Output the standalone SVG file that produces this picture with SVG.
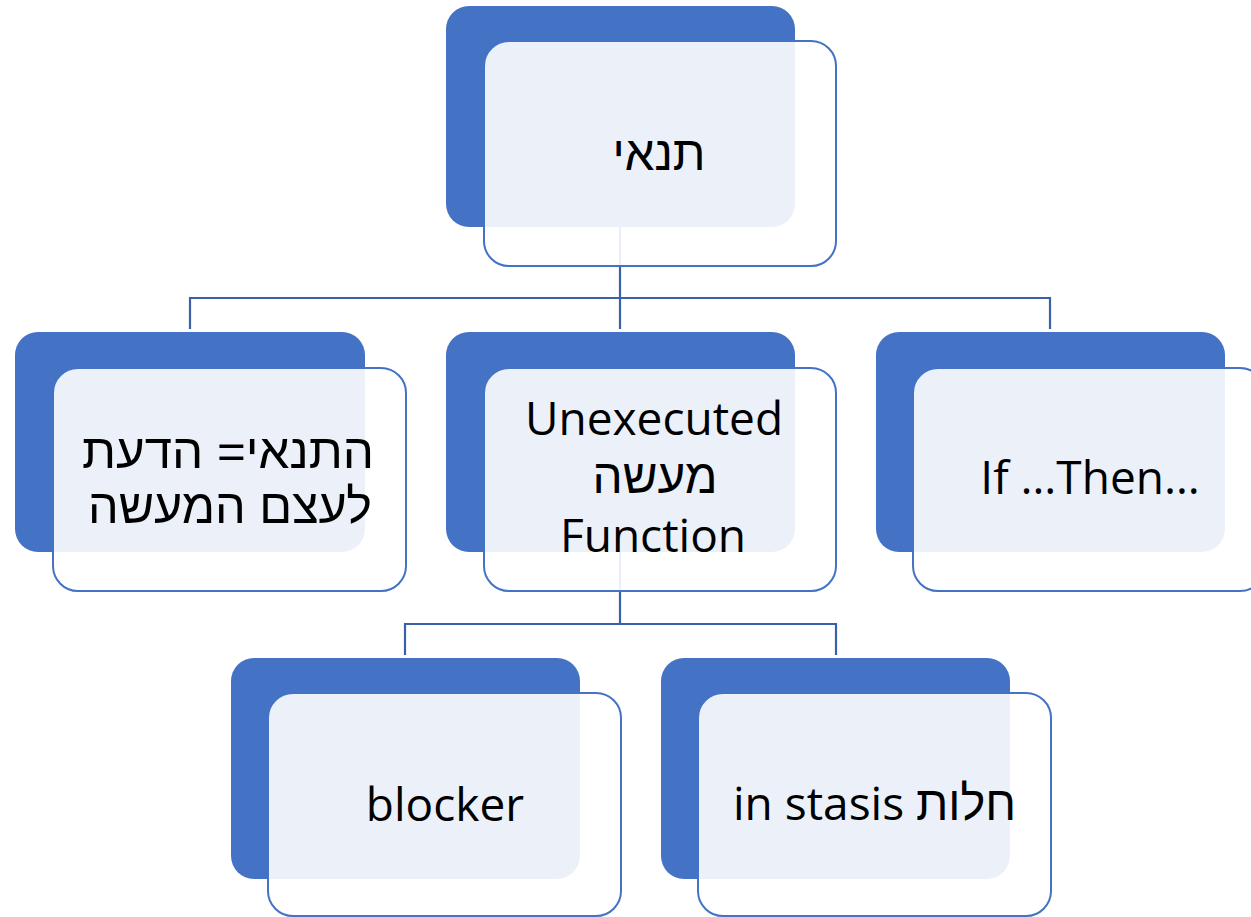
<svg xmlns="http://www.w3.org/2000/svg" width="1251" height="917" viewBox="0 0 1251 917">
<style>
.back{fill:#4472C4;}
.front{fill:#FFFFFF;fill-opacity:0.9;stroke:#4472C4;stroke-width:2;}
.conn{fill:none;stroke:#3A60A9;stroke-width:2.2;}
.t{font-family:"Open Sans","Liberation Sans","DejaVu Sans",sans-serif;font-size:46px;fill:#000;text-anchor:middle;}
.he{font-family:"Liberation Sans","DejaVu Sans",sans-serif;font-size:48px;}
</style>
<rect width="1251" height="917" fill="#FFFFFF"/>
<g id="connectors">
<path class="conn" d="M620,226 V298 M190,329 V298 H1050 V329 M620,298 V329"/>
<path class="conn" d="M620,552 V624 M405,655 V624 H836 V655"/>
</g>
<g id="node-root">
<rect class="back" x="446" y="6" width="349" height="221" rx="23"/>
<rect class="front" x="484" y="41" width="352" height="225" rx="25"/>
<text class="t he" x="659" y="170" textLength="93" lengthAdjust="spacingAndGlyphs">תנאי</text>
</g>
<g id="node-left">
<rect class="back" x="15" y="332" width="350" height="220" rx="23"/>
<rect class="front" x="53" y="368" width="353" height="223" rx="25"/>
<text class="t he" x="228" y="468" textLength="292" lengthAdjust="spacingAndGlyphs">התנאי= הדעת</text>
<text class="t he" x="230" y="523" textLength="284" lengthAdjust="spacingAndGlyphs">לעצם המעשה</text>
</g>
<g id="node-middle">
<rect class="back" x="446" y="332" width="349" height="220" rx="23"/>
<rect class="front" x="484" y="368" width="352" height="223" rx="25"/>
<text class="t" x="654" y="435">Unexecuted</text>
<text class="t he" x="655" y="493" textLength="125" lengthAdjust="spacingAndGlyphs">מעשה</text>
<text class="t" x="653" y="552">Function</text>
</g>
<g id="node-right">
<rect class="back" x="876" y="332" width="349" height="220" rx="23"/>
<rect class="front" x="913" y="368" width="352" height="223" rx="25"/>
<text class="t" x="1090" y="494">If …Then…</text>
</g>
<g id="node-blocker">
<rect class="back" x="231" y="658" width="349" height="221" rx="23"/>
<rect class="front" x="268" y="693" width="353" height="223" rx="25"/>
<text class="t" x="445" y="821">blocker</text>
</g>
<g id="node-stasis">
<rect class="back" x="661" y="658" width="349" height="221" rx="23"/>
<rect class="front" x="698" y="693" width="353" height="223" rx="25"/>
<text class="t" x="733" y="820" style="text-anchor:start">in stasis <tspan class="he" textLength="100" lengthAdjust="spacingAndGlyphs">חלות</tspan></text>
</g>
</svg>
